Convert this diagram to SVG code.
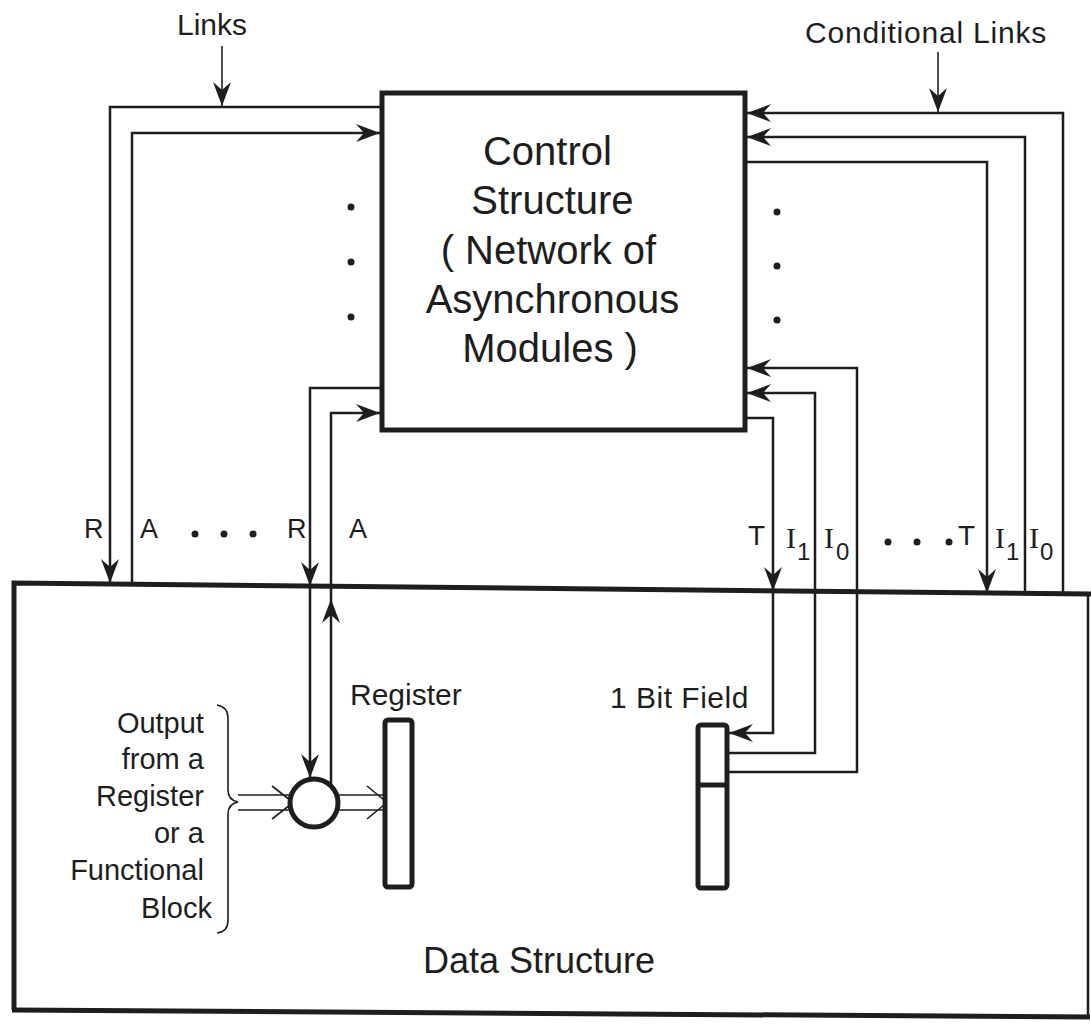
<svg xmlns="http://www.w3.org/2000/svg" width="1091" height="1026" viewBox="0 0 1091 1026">
<defs>
<style>
.ln{fill:none;stroke:#1e1e1e;stroke-width:2.5;stroke-linejoin:miter}
.thin{fill:none;stroke:#1e1e1e;stroke-width:1.6}
.bx{fill:none;stroke:#1e1e1e;stroke-width:5}
.t{font-family:"Liberation Sans",Arial,sans-serif;fill:#1e1e1e}
.s{font-family:"Liberation Serif","Times New Roman",serif;fill:#1e1e1e}
.dot{fill:#1e1e1e}
</style>
<marker id="ah" viewBox="-26 -11 28 22" refX="0" refY="0" markerWidth="28" markerHeight="22" markerUnits="userSpaceOnUse" orient="auto">
<path d="M0,0 L-24,-9 L-16,0 L-24,9 Z" fill="#1e1e1e"/>
</marker>
</defs>
<rect width="1091" height="1026" fill="#ffffff"/>

<g id="control-structure">
<rect class="bx" x="382" y="93" width="363" height="337"/>
<text class="t" font-size="40" text-anchor="middle">
<tspan x="553" y="165">Control</tspan>
<tspan x="558" y="214">Structure</tspan>
<tspan x="554" y="264">( Network of</tspan>
<tspan x="558" y="313">Asynchronous</tspan>
<tspan x="550" y="362">Modules )</tspan>
</text>
<circle class="dot" cx="351" cy="207" r="3.5"/>
<circle class="dot" cx="351" cy="262" r="3.5"/>
<circle class="dot" cx="351" cy="317" r="3.5"/>
<circle class="dot" cx="777" cy="212" r="3.5"/>
<circle class="dot" cx="777" cy="266" r="3.5"/>
<circle class="dot" cx="777" cy="320" r="3.5"/>
</g>

<g id="data-structure">
<path class="bx" d="M14,1010 L14,583 L1091,594"/>
<path class="ln" d="M1088,596 L1088,1017"/>
<path class="bx" d="M12,1010 L1090,1017"/>
<text class="t" x="423" y="973" font-size="36">Data Structure</text>
</g>

<g id="register">
<rect class="bx" x="385" y="720" width="27" height="167" rx="3"/>
<text class="t" x="350" y="705" font-size="30">Register</text>
</g>

<g id="bit-field">
<rect class="bx" x="698" y="725" width="29" height="163" rx="3"/>
<line class="bx" x1="698" y1="785" x2="727" y2="785"/>
<text class="t" x="610" y="708" font-size="30" letter-spacing="0.5">1 Bit Field</text>
</g>

<g id="gate">
<circle cx="314" cy="803" r="24" fill="none" stroke="#1e1e1e" stroke-width="5"/>
</g>

<g id="source-label">
<text class="t" font-size="29" text-anchor="end">
<tspan x="212" y="733">Output</tspan>
<tspan x="212" y="769">from a</tspan>
<tspan x="212" y="806">Register</tspan>
<tspan x="212" y="843">or a</tspan>
<tspan x="212" y="880">Functional</tspan>
<tspan x="212" y="918">Block</tspan>
</text>
<path class="thin" d="M217,705 Q228,707 228,718 L228,790 Q228,800 238,802 Q228,804 228,814 L228,920 Q228,932 217,933"/>
</g>

<g id="labels">
<text class="t" x="177" y="35" font-size="30">Links</text>
<text class="t" x="805" y="43" font-size="30" letter-spacing="0.8">Conditional Links</text>
<text class="t" font-size="27" y="538"><tspan x="84">R</tspan><tspan x="140">A</tspan><tspan x="287">R</tspan><tspan x="349">A</tspan></text>
<circle class="dot" cx="195" cy="534" r="3.5"/>
<circle class="dot" cx="224" cy="534" r="3.5"/>
<circle class="dot" cx="253" cy="534" r="3.5"/>
<text class="t" font-size="28" y="545"><tspan x="748">T</tspan><tspan x="958">T</tspan></text>
<text class="s" font-size="30" y="548"><tspan x="786">I</tspan><tspan x="824">I</tspan><tspan x="995">I</tspan><tspan x="1029">I</tspan></text>
<text class="t" font-size="24" y="560"><tspan x="797">1</tspan><tspan x="836">0</tspan><tspan x="1006">1</tspan><tspan x="1040">0</tspan></text>
<circle class="dot" cx="888" cy="542" r="3.5"/>
<circle class="dot" cx="917" cy="542" r="3.5"/>
<circle class="dot" cx="949" cy="542" r="3.5"/>
</g>

<g id="connectors">
<path class="thin" d="M222,46 L222,106" marker-end="url(#ah)"/>
<path class="thin" d="M938,52 L938,112" marker-end="url(#ah)"/>
<path class="ln" d="M383,107 L110,107 L110,583" marker-end="url(#ah)"/>
<path class="ln" d="M132,584 L132,133 L380,133" marker-end="url(#ah)"/>
<path class="ln" d="M381,388 L310,388 L310,586" marker-end="url(#ah)"/>
<path class="ln" d="M310,586 L310,778" marker-end="url(#ah)"/>
<path class="ln" d="M331,786 L331,599" marker-end="url(#ah)"/>
<path class="ln" d="M331,599 L331,413 L380,413" marker-end="url(#ah)"/>
<path class="ln" d="M745,418 L773,418 L773,591" marker-end="url(#ah)"/>
<path class="ln" d="M773,591 L773,733 L729,733" marker-end="url(#ah)"/>
<path class="ln" d="M729,753 L815,753 L815,393 L747,393" marker-end="url(#ah)"/>
<path class="ln" d="M729,772 L857,772 L857,368 L747,368" marker-end="url(#ah)"/>
<path class="ln" d="M745,162 L987,162 L987,593" marker-end="url(#ah)"/>
<path class="ln" d="M1025,594 L1025,137 L747,137" marker-end="url(#ah)"/>
<path class="ln" d="M1063,594 L1063,113 L747,113" marker-end="url(#ah)"/>
<path class="thin" d="M238,795 L290,795 M238,810 L290,810 M272,786 L290,800 M272,819 L290,805"/>
<path class="thin" d="M338,795 L384,795 M338,810 L384,810 M367,786 L384,800 M367,819 L384,805"/>
</g>
</svg>
